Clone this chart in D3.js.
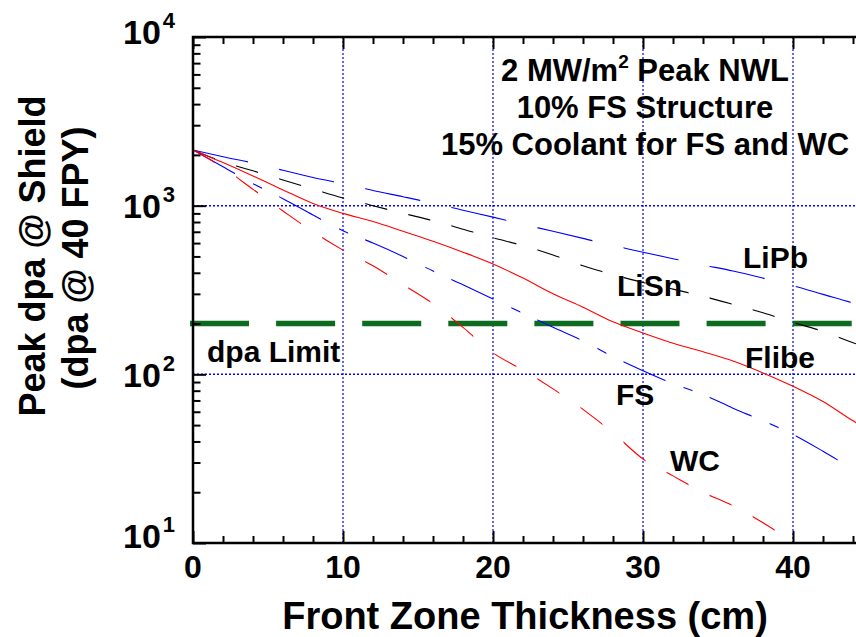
<!DOCTYPE html>
<html lang="en">
<head>
	<meta charset="UTF-8">
	<script src="https://d3js.org/d3.v7.min.js" charset="utf-8"></script>
	<title>Peak dpa @ Shield</title>
</head>
<body>

</body>
<style>

body {
  margin: 0;
  background: #fff;
}

text {
  font-family: "Liberation Sans", Arial, sans-serif;
  font-weight: bold;
  fill: #000;
}

.grid {
  stroke: #0000ff;
  stroke-width: 1.2;
  stroke-dasharray: 2,2;
}

.tick line {
  stroke: #000;
  stroke-width: 2;
}

</style>
<script>

// front zone thickness (cm) and peak dpa for each blanket option
var thickness = [0, 2, 4, 6, 8, 10, 12, 14, 16, 18, 20, 22, 24, 26, 28, 30, 32, 34, 36, 38, 40, 42, 44, 45];
var lipb  = [2140, 1950, 1790, 1620, 1470, 1350, 1230, 1130, 1035, 940, 855, 775, 705, 640, 580, 530, 485, 445, 410, 372, 335, 298, 265, 252];
var lisn  = [2140, 1820, 1610, 1420, 1255, 1110, 1000, 900, 815, 725, 645, 580, 510, 440, 390, 350, 320, 290, 260, 232, 203, 180, 154, 144];
var flibe = [2140, 1800, 1500, 1240, 1030, 900, 805, 705, 615, 530, 451, 372, 300, 250, 205, 176, 153, 136, 120, 102, 85, 69, 53, 47];

var fsThickness = [0, 2, 4, 6, 8, 10, 12, 14, 16, 18, 20, 22, 24, 26, 28, 30, 32, 34, 36, 38, 40, 42, 43];
var fs = [2140, 1700, 1350, 1100, 880, 710, 600, 500, 410, 340, 280, 230, 190, 158, 127, 105, 88, 76, 63, 53, 44, 35, 31];

var wcThickness = [0, 2, 4, 6, 8, 10, 12, 14, 16, 18, 20, 22, 24, 26, 28, 30, 32, 34, 36, 38, 39];
var wc = [2140, 1680, 1250, 930, 700, 545, 440, 340, 262, 190, 134, 106, 82, 62, 45, 31.5, 25, 20, 16.6, 13.2, 11.6];

var dpaLimit = 200;

var xTicks = [0, 10, 20, 30, 40, 50];
var xTickLabels = [0, 10, 20, 30, 40];
var yTicks = [10, 100, 1000, 10000];
var yTickLabels = ["1", "2", "3", "4"];

var width = 856,
    height = 637;

var x = d3.scaleLinear().domain([0, 50]).range([193, 943]);
var y = d3.scaleLog().domain([10, 10000]).range([543, 37]);

var svg = d3.select("body").append("svg")
    .attr("width", width)
    .attr("height", height);

var defs = svg.append("defs");

// grid
svg.selectAll(".vgrid")
    .data([10, 20, 30, 40])
  .enter().append("line")
    .attr("class", "grid")
    .attr("x1", x).attr("x2", x)
    .attr("y1", y(10)).attr("y2", y(10000));

svg.selectAll(".hgrid")
    .data([100, 1000])
  .enter().append("line")
    .attr("class", "grid")
    .style("stroke-width", 1.5)
    .attr("x1", x(0)).attr("x2", x(50))
    .attr("y1", y).attr("y2", y);

// dpa limit
svg.append("line")
    .attr("x1", x(0) - 3).attr("x2", x(50))
    .attr("y1", y(dpaLimit)).attr("y2", y(dpaLimit))
    .style("stroke", "#0d6b1f")
    .style("stroke-width", 5.5)
    .style("stroke-dasharray", "59,27.1");

// dashes are laid out along x, so each dashed curve is cut by vertical strips
function strips(id, period, pieces) {
  var clip = defs.append("clipPath").attr("id", id);
  d3.range(0, 700, period).forEach(function(p) {
    pieces.forEach(function(s) {
      clip.append("rect")
          .attr("x", x(0) + p + s[0])
          .attr("y", 0)
          .attr("width", s[1] - s[0])
          .attr("height", height);
    });
  });
}

strips("dash-short", 43.05, [[0, 22]]);
strips("dash-long", 86.1, [[0, 55]]);
strips("dash-dot", 86.1, [[0, 42], [60, 69]]);

var line = d3.line()
    .x(function(d) { return x(d[0]); })
    .y(function(d) { return y(d[1]); })
    .curve(d3.curveMonotoneX);

var series = [
  {xs: thickness, ys: lipb, color: "#0000ff", clip: "dash-long"},
  {xs: thickness, ys: lisn, color: "#000000", clip: "dash-short"},
  {xs: thickness, ys: flibe, color: "#ff0000", clip: null},
  {xs: fsThickness, ys: fs, color: "#0000ff", clip: "dash-dot"},
  {xs: wcThickness, ys: wc, color: "#ff0000", clip: "dash-short"}
];

svg.selectAll(".curve")
    .data(series)
  .enter().append("path")
    .attr("class", "curve")
    .attr("d", function(s) { return line(d3.zip(s.xs, s.ys)); })
    .attr("clip-path", function(s) { return s.clip ? "url(#" + s.clip + ")" : null; })
    .style("fill", "none")
    .style("stroke", function(s) { return s.color; })
    .style("stroke-width", 1.1);

// axes: inward ticks on bottom, top and left
var minorX = d3.range(0, 51, 2).filter(function(v) { return v % 10; });
var minorY = [];
[10, 100, 1000].forEach(function(d) {
  for (var k = 2; k < 10; k++) minorY.push(d * k);
});

function ticks(axis, size, values) {
  return axis.tickValues(values).tickSize(size).tickFormat("");
}

[[xTicks, -12], [minorX, -7]].forEach(function(t) {
  svg.append("g").attr("transform", "translate(0," + y(10) + ")")
      .call(ticks(d3.axisBottom(x), t[1], t[0]))
      .call(function(g) { g.select(".domain").remove(); });
  svg.append("g").attr("transform", "translate(0," + y(10000) + ")")
      .call(ticks(d3.axisTop(x), t[1], t[0]))
      .call(function(g) { g.select(".domain").remove(); });
});

[[yTicks, -13], [minorY, -7.5]].forEach(function(t) {
  svg.append("g").attr("transform", "translate(" + x(0) + ",0)")
      .call(ticks(d3.axisLeft(y), t[1], t[0]))
      .call(function(g) { g.select(".domain").remove(); });
});

svg.append("path")
    .attr("d", "M" + x(50) + "," + y(10000) + "H" + x(0) + "V" + y(10) + "H" + x(50))
    .style("fill", "none")
    .style("stroke", "#000")
    .style("stroke-width", 2.5);

// tick labels
svg.selectAll(".xlabel")
    .data(xTickLabels)
  .enter().append("text")
    .attr("x", x)
    .attr("y", 578)
    .attr("text-anchor", "middle")
    .style("font-size", "32px")
    .text(function(d) { return d; });

var yShift = [5, 13, 12, 7];
var ylab = svg.selectAll(".ylabel")
    .data(yTicks)
  .enter().append("text")
    .attr("x", 123)
    .attr("y", function(d, i) { return y(d) + yShift[i]; })
    .style("font-size", "34px");
ylab.append("tspan").text("10");
ylab.append("tspan")
    .attr("dx", 2)
    .attr("dy", -16)
    .style("font-size", "22px")
    .text(function(d, i) { return yTickLabels[i]; });

// axis titles
svg.append("text")
    .attr("x", 525)
    .attr("y", 629)
    .attr("text-anchor", "middle")
    .style("font-size", "38px")
    .text("Front Zone Thickness (cm)");

svg.append("text")
    .attr("transform", "translate(45,256) rotate(-90)")
    .attr("text-anchor", "middle")
    .style("font-size", "36px")
    .text("Peak dpa @ Shield");

svg.append("text")
    .attr("transform", "translate(88,258) rotate(-90)")
    .attr("text-anchor", "middle")
    .style("font-size", "36px")
    .text("(dpa @ 40 FPY)");

// note
var note = svg.append("text")
    .attr("x", 645)
    .attr("y", 81)
    .attr("text-anchor", "middle")
    .style("font-size", "31px");
note.append("tspan").text("2 MW/m");
note.append("tspan").attr("dy", -13).style("font-size", "19px").text("2");
note.append("tspan").attr("dy", 13).text(" Peak NWL");

svg.append("text")
    .attr("x", 645).attr("y", 118)
    .attr("text-anchor", "middle")
    .style("font-size", "31px")
    .text("10% FS Structure");

svg.append("text")
    .attr("x", 645).attr("y", 155)
    .attr("text-anchor", "middle")
    .style("font-size", "31px")
    .text("15% Coolant for FS and WC");

// curve names
var names = [
  {text: "LiPb", x: 743, y: 268},
  {text: "LiSn", x: 617, y: 296},
  {text: "Flibe", x: 745, y: 368},
  {text: "FS", x: 616, y: 405},
  {text: "WC", x: 670, y: 471},
  {text: "dpa Limit", x: 207, y: 362}
];

svg.selectAll(".name")
    .data(names)
  .enter().append("text")
    .attr("x", function(d) { return d.x; })
    .attr("y", function(d) { return d.y; })
    .style("font-size", "30px")
    .text(function(d) { return d.text; });

</script>

</html>
